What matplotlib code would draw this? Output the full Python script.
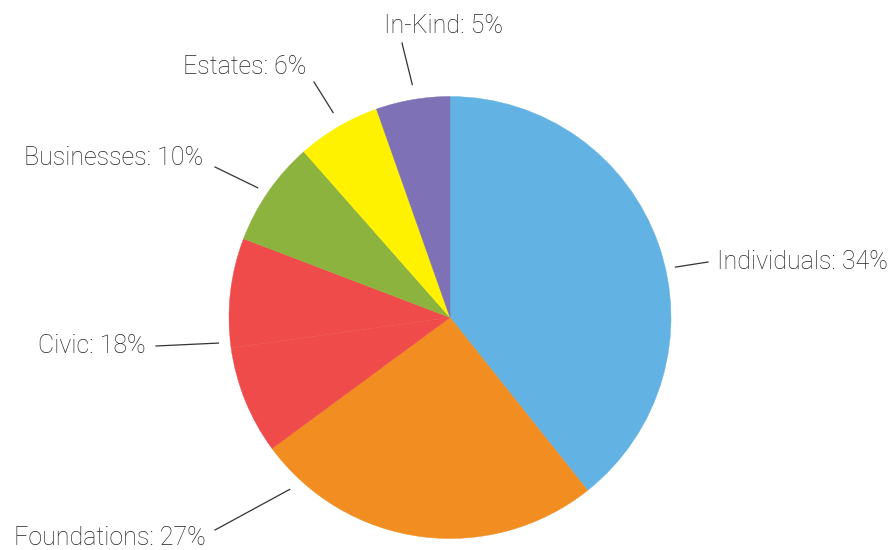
import numpy as np
import matplotlib
matplotlib.use('Agg')
from matplotlib import pyplot as plt

# label text (as printed) and slice sizes (as drawn in the picture)
categories = ['Individuals', 'Foundations', 'Civic', 'Civic', 'Businesses', 'Estates', 'In-Kind']
label_pct = [34, 27, 18, 18, 10, 6, 5]
slice_sizes = [39.3, 25.6, 7.9, 8.0, 7.7, 6.1, 5.4]
colors = ['#62b3e3', '#f18d21', '#ee4b4a', '#ee4b4a', '#8db33f', '#fff200', '#7e71b5']

W, H = 896, 550
fig = plt.figure(figsize=(W / 100, H / 100), dpi=100)
ax = fig.add_axes([0, 0, 1, 1])

cx, cy, r = 450, H - 317.5, 221
wedges, _ = ax.pie(slice_sizes, colors=colors, startangle=90, counterclock=False,
                   center=(cx, cy), radius=r, frame=True)
for w, c in zip(wedges, colors):
    w.set_edgecolor(c)
    w.set_linewidth(0.3)
ax.set_xlim(0, W)
ax.set_ylim(0, H)
ax.axis('off')

# label layout: (leader angle, leader radius, leader end x, end y, text x, baseline y, ha)
layout = {
    'Individuals': (12.6, 231, 708, 262, 717, 269, 'left'),
    'Foundations': (227, 235, 215, 530, 206, 545, 'right'),
    'Civic': (186.3, 233, 156, 346, 146, 353, 'right'),
    'Businesses': (146, 232, 215, 167, 203, 165, 'right'),
    'Estates': (119.7, 236, 314, 82, 306, 74, 'right'),
    'In-Kind': (99.2, 236, 402, 43, 443, 33, 'center'),
}

font = dict(family=['Roboto', 'DejaVu Sans'], fontweight='light', fontsize=18, color='#222222')
seen = set()
for name, pct in zip(categories, label_pct):
    if name in seen:
        continue
    seen.add(name)
    ang, r1, lx, ly, tx, ty, ha = layout[name]
    a = np.radians(ang)
    ax.plot([cx + r1 * np.cos(a), lx], [cy + r1 * np.sin(a), H - ly],
            color='#333333', lw=0.9)
    ax.text(tx, H - ty, f'{name}: {pct}%', ha=ha, va='baseline', **font)

fig.savefig('out.png', dpi=100, facecolor='white')
